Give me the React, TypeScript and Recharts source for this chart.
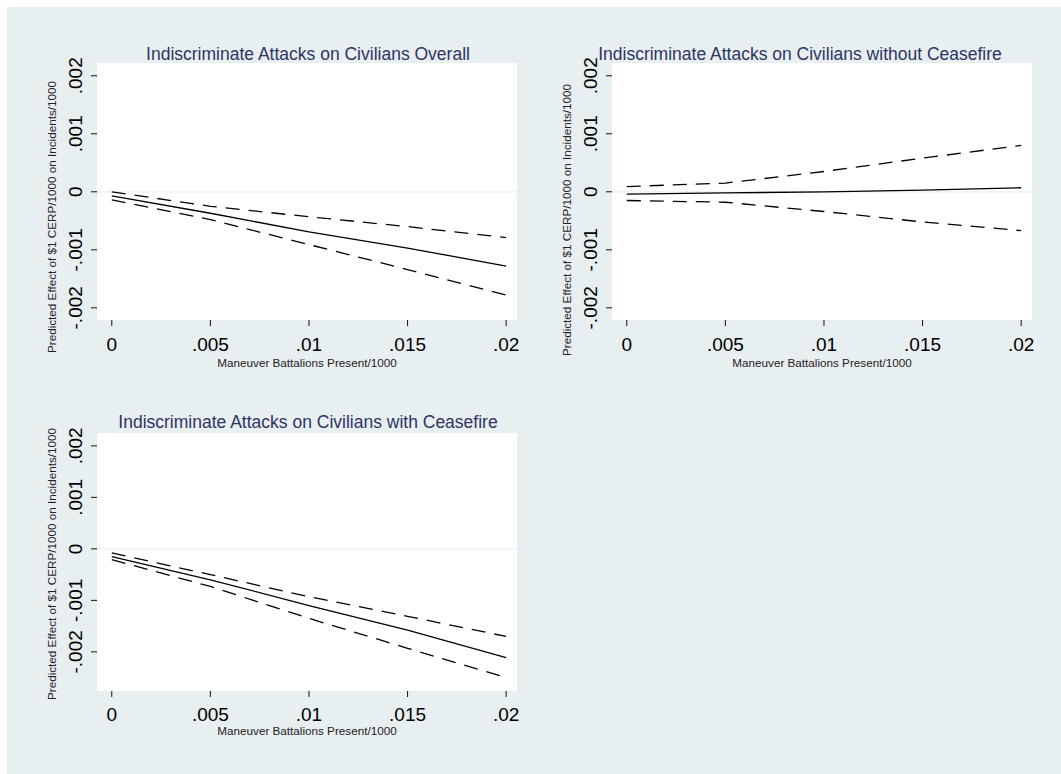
import { LineChart, Line, XAxis, YAxis, CartesianGrid, ReferenceLine } from 'recharts';

// x grid shared by all three margin plots (battalions present / 1000)
const xValues = [0, 0.005, 0.01, 0.015, 0.02];

// overall
const overallEst = [-0.00007, -0.00037, -0.00069, -0.00097, -0.00128];
const overallHi = [0.0, -0.00025, -0.00043, -0.0006, -0.00079];
const overallLo = [-0.00014, -0.00048, -0.00091, -0.00134, -0.00178];

// without ceasefire
const noCeasefireEst = [-0.00004, -0.00002, 0.0, 0.00003, 0.00007];
const noCeasefireHi = [0.00009, 0.00015, 0.00035, 0.00058, 0.0008];
const noCeasefireLo = [-0.00015, -0.00018, -0.00034, -0.00052, -0.00067];

// with ceasefire
const ceasefireEst = [-0.00015, -0.0006, -0.0011, -0.00158, -0.00211];
const ceasefireHi = [-0.00008, -0.0005, -0.00093, -0.00131, -0.0017];
const ceasefireLo = [-0.00021, -0.00073, -0.00135, -0.00193, -0.0025];

const xTicks = [0, 0.005, 0.01, 0.015, 0.02];
const yTicks = [-0.002, -0.001, 0, 0.001, 0.002];

const FONT = '"Liberation Sans", Arial, sans-serif';
const BG = '#e8eff1';
const X_TITLE = 'Maneuver Battalions Present/1000';
const Y_TITLE = 'Predicted Effect of $1 CERP/1000 on Incidents/1000';

const fmt = (v: number) => (v === 0 ? '0' : String(v).replace('0.', '.'));

function buildRows(est: number[], lo: number[], hi: number[]) {
  return xValues.map((x, i) => ({ x, est: est[i], lo: lo[i], hi: hi[i] }));
}

// rotated y tick labels, Stata style
function YTick({ x, y, payload }: any) {
  return (
    <text
      x={x}
      y={y}
      transform={`rotate(-90, ${x}, ${y})`}
      textAnchor="middle"
      fontSize={19}
      fontFamily={FONT}
      fill="#000"
    >
      {fmt(payload.value)}
    </text>
  );
}

interface PanelProps {
  left: number;
  top: number;
  title: string;
  titleX: number;
  titleY: number;
  yTitleY: number;
  xTitleY: number;
  yDomain: [number, number];
  bottom: number;
  xTickMargin: number;
  est: number[];
  lo: number[];
  hi: number[];
}

const W = 540;
const H = 370;

function Panel(p: PanelProps) {
  const data = buildRows(p.est, p.lo, p.hi);
  return (
    <div style={{ position: 'absolute', left: p.left, top: p.top, width: W, height: H }}>
      <LineChart
        width={W}
        height={H}
        data={data}
        margin={{ top: 33, right: 23, left: 37, bottom: p.bottom }}
      >
        <CartesianGrid fill="#ffffff" horizontal={false} vertical={false} />
        <XAxis
          dataKey="x"
          type="number"
          domain={[-0.00075, 0.02055]}
          ticks={xTicks}
          tickFormatter={fmt}
          axisLine={false}
          tickSize={6}
          tickMargin={p.xTickMargin}
          tickLine={{ stroke: '#111', strokeWidth: 1 }}
          tick={{ fontSize: 19, fill: '#000', fontFamily: FONT }}
          height={60}
          allowDataOverflow
        />
        <YAxis
          type="number"
          domain={p.yDomain}
          ticks={yTicks}
          axisLine={false}
          tickSize={6}
          tickMargin={9}
          tickLine={{ stroke: '#111', strokeWidth: 1 }}
          tick={<YTick />}
          width={60}
          allowDataOverflow
        />
        <ReferenceLine y={0} stroke={BG} strokeWidth={1.2} />
        <Line
          type="linear"
          dataKey="hi"
          stroke="#000"
          strokeWidth={1.3}
          strokeDasharray="14 9"
          dot={false}
          isAnimationActive={false}
        />
        <Line
          type="linear"
          dataKey="lo"
          stroke="#000"
          strokeWidth={1.3}
          strokeDasharray="14 9"
          dot={false}
          isAnimationActive={false}
        />
        <Line
          type="linear"
          dataKey="est"
          stroke="#000"
          strokeWidth={1.3}
          dot={false}
          isAnimationActive={false}
        />
      </LineChart>
      <svg
        width={W}
        height={H}
        style={{ position: 'absolute', left: 0, top: 0, pointerEvents: 'none' }}
      >
        <text x={p.titleX} y={p.titleY} textAnchor="middle" fontSize={17.5} fontFamily={FONT} fill="#2e3464">
          {p.title}
        </text>
        <text
          x={56}
          y={p.yTitleY}
          transform={`rotate(-90, 56, ${p.yTitleY})`}
          textAnchor="middle"
          fontSize={11.7}
          fontFamily={FONT}
          fill="#222"
        >
          {Y_TITLE}
        </text>
        <text x={307} y={p.xTitleY} textAnchor="middle" fontSize={11.7} fontFamily={FONT} fill="#222">
          {X_TITLE}
        </text>
      </svg>
    </div>
  );
}

export default function App() {
  return (
    <div style={{ position: 'absolute', left: 0, top: 0, width: 1061, height: 774, background: '#fff', overflow: 'hidden' }}>
      <div style={{ position: 'absolute', left: 7, top: 7, right: 0, bottom: 0, background: BG }} />
      <Panel
        left={0}
        top={30}
        title="Indiscriminate Attacks on Civilians Overall"
        titleX={308}
        titleY={30}
        yTitleY={187}
        xTitleY={337}
        yDomain={[-0.00221, 0.00222]}
        bottom={20}
        xTickMargin={12}
        est={overallEst}
        lo={overallLo}
        hi={overallHi}
      />
      <Panel
        left={515}
        top={30}
        title="Indiscriminate Attacks on Civilians without Ceasefire"
        titleX={285}
        titleY={30}
        yTitleY={190}
        xTitleY={337}
        yDomain={[-0.00221, 0.00222]}
        bottom={20}
        xTickMargin={12}
        est={noCeasefireEst}
        lo={noCeasefireLo}
        hi={noCeasefireHi}
      />
      <Panel
        left={0}
        top={400}
        title="Indiscriminate Attacks on Civilians with Ceasefire"
        titleX={308}
        titleY={28}
        yTitleY={164}
        xTitleY={335}
        yDomain={[-0.00276, 0.00225]}
        bottom={19}
        xTickMargin={11}
        est={ceasefireEst}
        lo={ceasefireLo}
        hi={ceasefireHi}
      />
    </div>
  );
}
